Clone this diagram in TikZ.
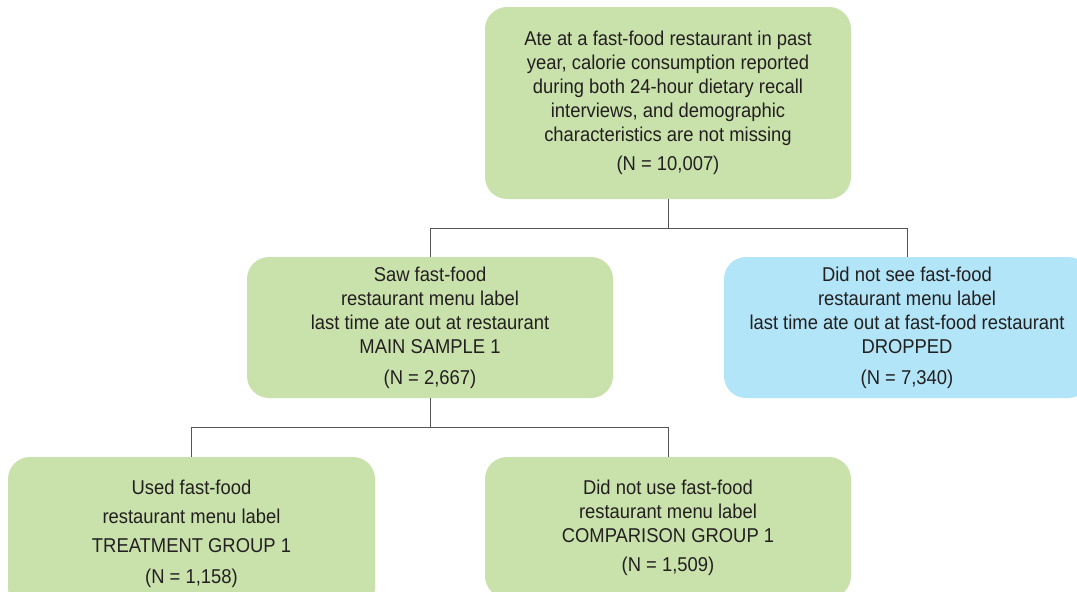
\documentclass[tikz,border=0pt]{standalone}
\usepackage{fontspec}
\setmainfont{Liberation Sans}[FakeStretch=0.92]
\usetikzlibrary{positioning}

\definecolor{boxgreen}{HTML}{C9E2AC}
\definecolor{boxblue}{HTML}{B1E5F7}
\definecolor{linkgray}{HTML}{555555}
\definecolor{textgray}{HTML}{231F20}

\tikzset{
  stage/.style={fill=boxgreen, rounded corners=22pt, inner sep=0pt,
    minimum width=366pt, minimum height=141pt, align=center,
    text=textgray, font=\fontsize{20}{24}\selectfont},
  dropped/.style={stage, fill=boxblue},
  link/.style={draw=linkgray, line width=1pt},
}

\begin{document}
\begin{tikzpicture}[x=1pt, y=-1pt]
  \useasboundingbox (0,0) rectangle (1077,592);
  \clip (0,0) rectangle (1077,592);

  % sample selection
  \node [stage, minimum height=192pt] (ate) at (668,103)
    {Ate at a fast-food restaurant in past\\
     year, calorie consumption reported\\
     during both 24-hour dietary recall\\
     interviews, and demographic\\
     characteristics are not missing\\[5pt]
     (N = 10,007)};

  \node [stage] (saw) at (430,327.5)
    {Saw fast-food\\ restaurant menu label\\
     last time ate out at restaurant\\ MAIN SAMPLE 1\\[7pt]
     (N = 2,667)};
  \node [dropped] (nosee) at (907,327.5)
    {Did not see fast-food\\ restaurant menu label\\
     last time ate out at fast-food restaurant\\ DROPPED\\[7pt]
     (N = 7,340)};

  % groups
  \node [stage, minimum width=367pt, minimum height=153pt] (used) at (191.5,533.5)
    {Used fast-food\\[5pt] restaurant menu label\\[5pt]
     TREATMENT GROUP 1\\[7pt] (N = 1,158)};
  \node [stage] (notused) at (668,527.5)
    {Did not use fast-food\\ restaurant menu label\\
     COMPARISON GROUP 1\\[5pt] (N = 1,509)};

  \draw [link] (ate.south) -- ++(0,29) -| (saw.north);
  \draw [link] (ate.south) -- ++(0,29) -| (nosee.north);
  \draw [link] (saw.south) -- ++(0,29) -| (used.north);
  \draw [link] (saw.south) -- ++(0,29) -| (notused.north);
\end{tikzpicture}
\end{document}
